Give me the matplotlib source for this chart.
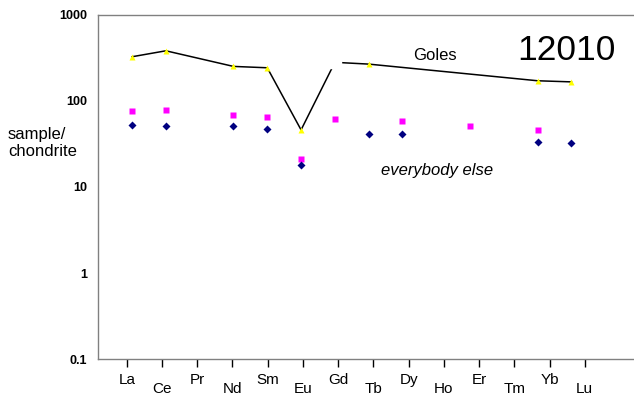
import numpy as np
import matplotlib
matplotlib.use("Agg")
import matplotlib.pyplot as plt

plt.rcParams['font.family'] = ['Liberation Sans', 'DejaVu Sans']

elements = ['La', 'Ce', 'Pr', 'Nd', 'Sm', 'Eu', 'Gd', 'Tb', 'Dy', 'Ho', 'Er', 'Tm', 'Yb', 'Lu']
nan = np.nan

# Goles (12010) - Gd point is not marked in the original, only the line passes there
goles = [325, 381, nan, 251, 242, 46, 280, 267, nan, nan, nan, nan, 171, 166]
goles_unmarked = ['Gd']

# everybody else, two series
other_pink = [76.6, 78.5, nan, 69, 64.6, 21.2, 61.2, nan, 58, nan, 51.7, nan, 46.4, nan]
other_navy = [52.6, 51.6, nan, 51.6, 47.2, 18.0, nan, 41.3, 41.3, nan, nan, nan, 33.1, 32.2]

yticks = [0.1, 1, 10, 100, 1000]
ytick_labels = ['0.1', '1', '10', '100', '1000']

fig = plt.figure(figsize=(6.34, 3.95), dpi=100)
ax = fig.add_axes([0.155, 0.0904, 0.853, 0.8724])

x = np.arange(len(elements))

g = np.array(goles, dtype=float)
ok = ~np.isnan(g)
ax.plot(x[ok], g[ok], color='black', lw=1.1, zorder=2)
hid = np.array([e in goles_unmarked for e in elements])
ax.plot(x[ok & hid], g[ok & hid], 's', color='white', ms=8, zorder=3)
ax.plot(x[ok & ~hid], g[ok & ~hid], '^', color='#FFFF00', ms=5, mec='none', zorder=4)

p = np.array(other_pink, dtype=float)
ax.plot(x, p, 's', color='#FF00FF', ms=4.5, mec='none', zorder=4)
n = np.array(other_navy, dtype=float)
ax.plot(x, n, 'D', color='#000080', ms=3.8, mec='none', zorder=4)

ax.set_yscale('log')
ax.set_ylim(0.1, 1000)
ax.set_xlim(-1, 15)
ax.set_yticks(yticks)
ax.set_yticklabels(ytick_labels, fontsize=9, fontweight='bold')
ax.yaxis.set_minor_locator(matplotlib.ticker.NullLocator())
ax.tick_params(axis='y', length=0, pad=8)

# category labels sit on a slightly wider spacing than the points
tick_pos = -0.157 + 1.0423 * x
ax.set_xticks(tick_pos)
ax.set_xticklabels(elements, fontsize=11)
ax.tick_params(axis='x', direction='out', length=5.8, width=1, color='black', pad=4)
for i, t in enumerate(ax.xaxis.get_major_ticks()):
    if i % 2:
        t.set_pad(10.2)

for s in ['left', 'bottom', 'top']:
    ax.spines[s].set_color('#808080')
    ax.spines[s].set_linewidth(1)
ax.spines['right'].set_visible(False)

ax.text(8.96, 340, 'Goles', fontsize=12, ha='center', va='center')
ax.text(12.86, 389, '12010', fontsize=25.5, ha='center', va='center')
ax.text(9.02, 15.7, 'everybody else', fontsize=12, style='italic', ha='center', va='center')
fig.text(8 / 634, 0.638, 'sample/\nchondrite', fontsize=12, ha='left', va='center')

fig.savefig('out.png', dpi=100)
